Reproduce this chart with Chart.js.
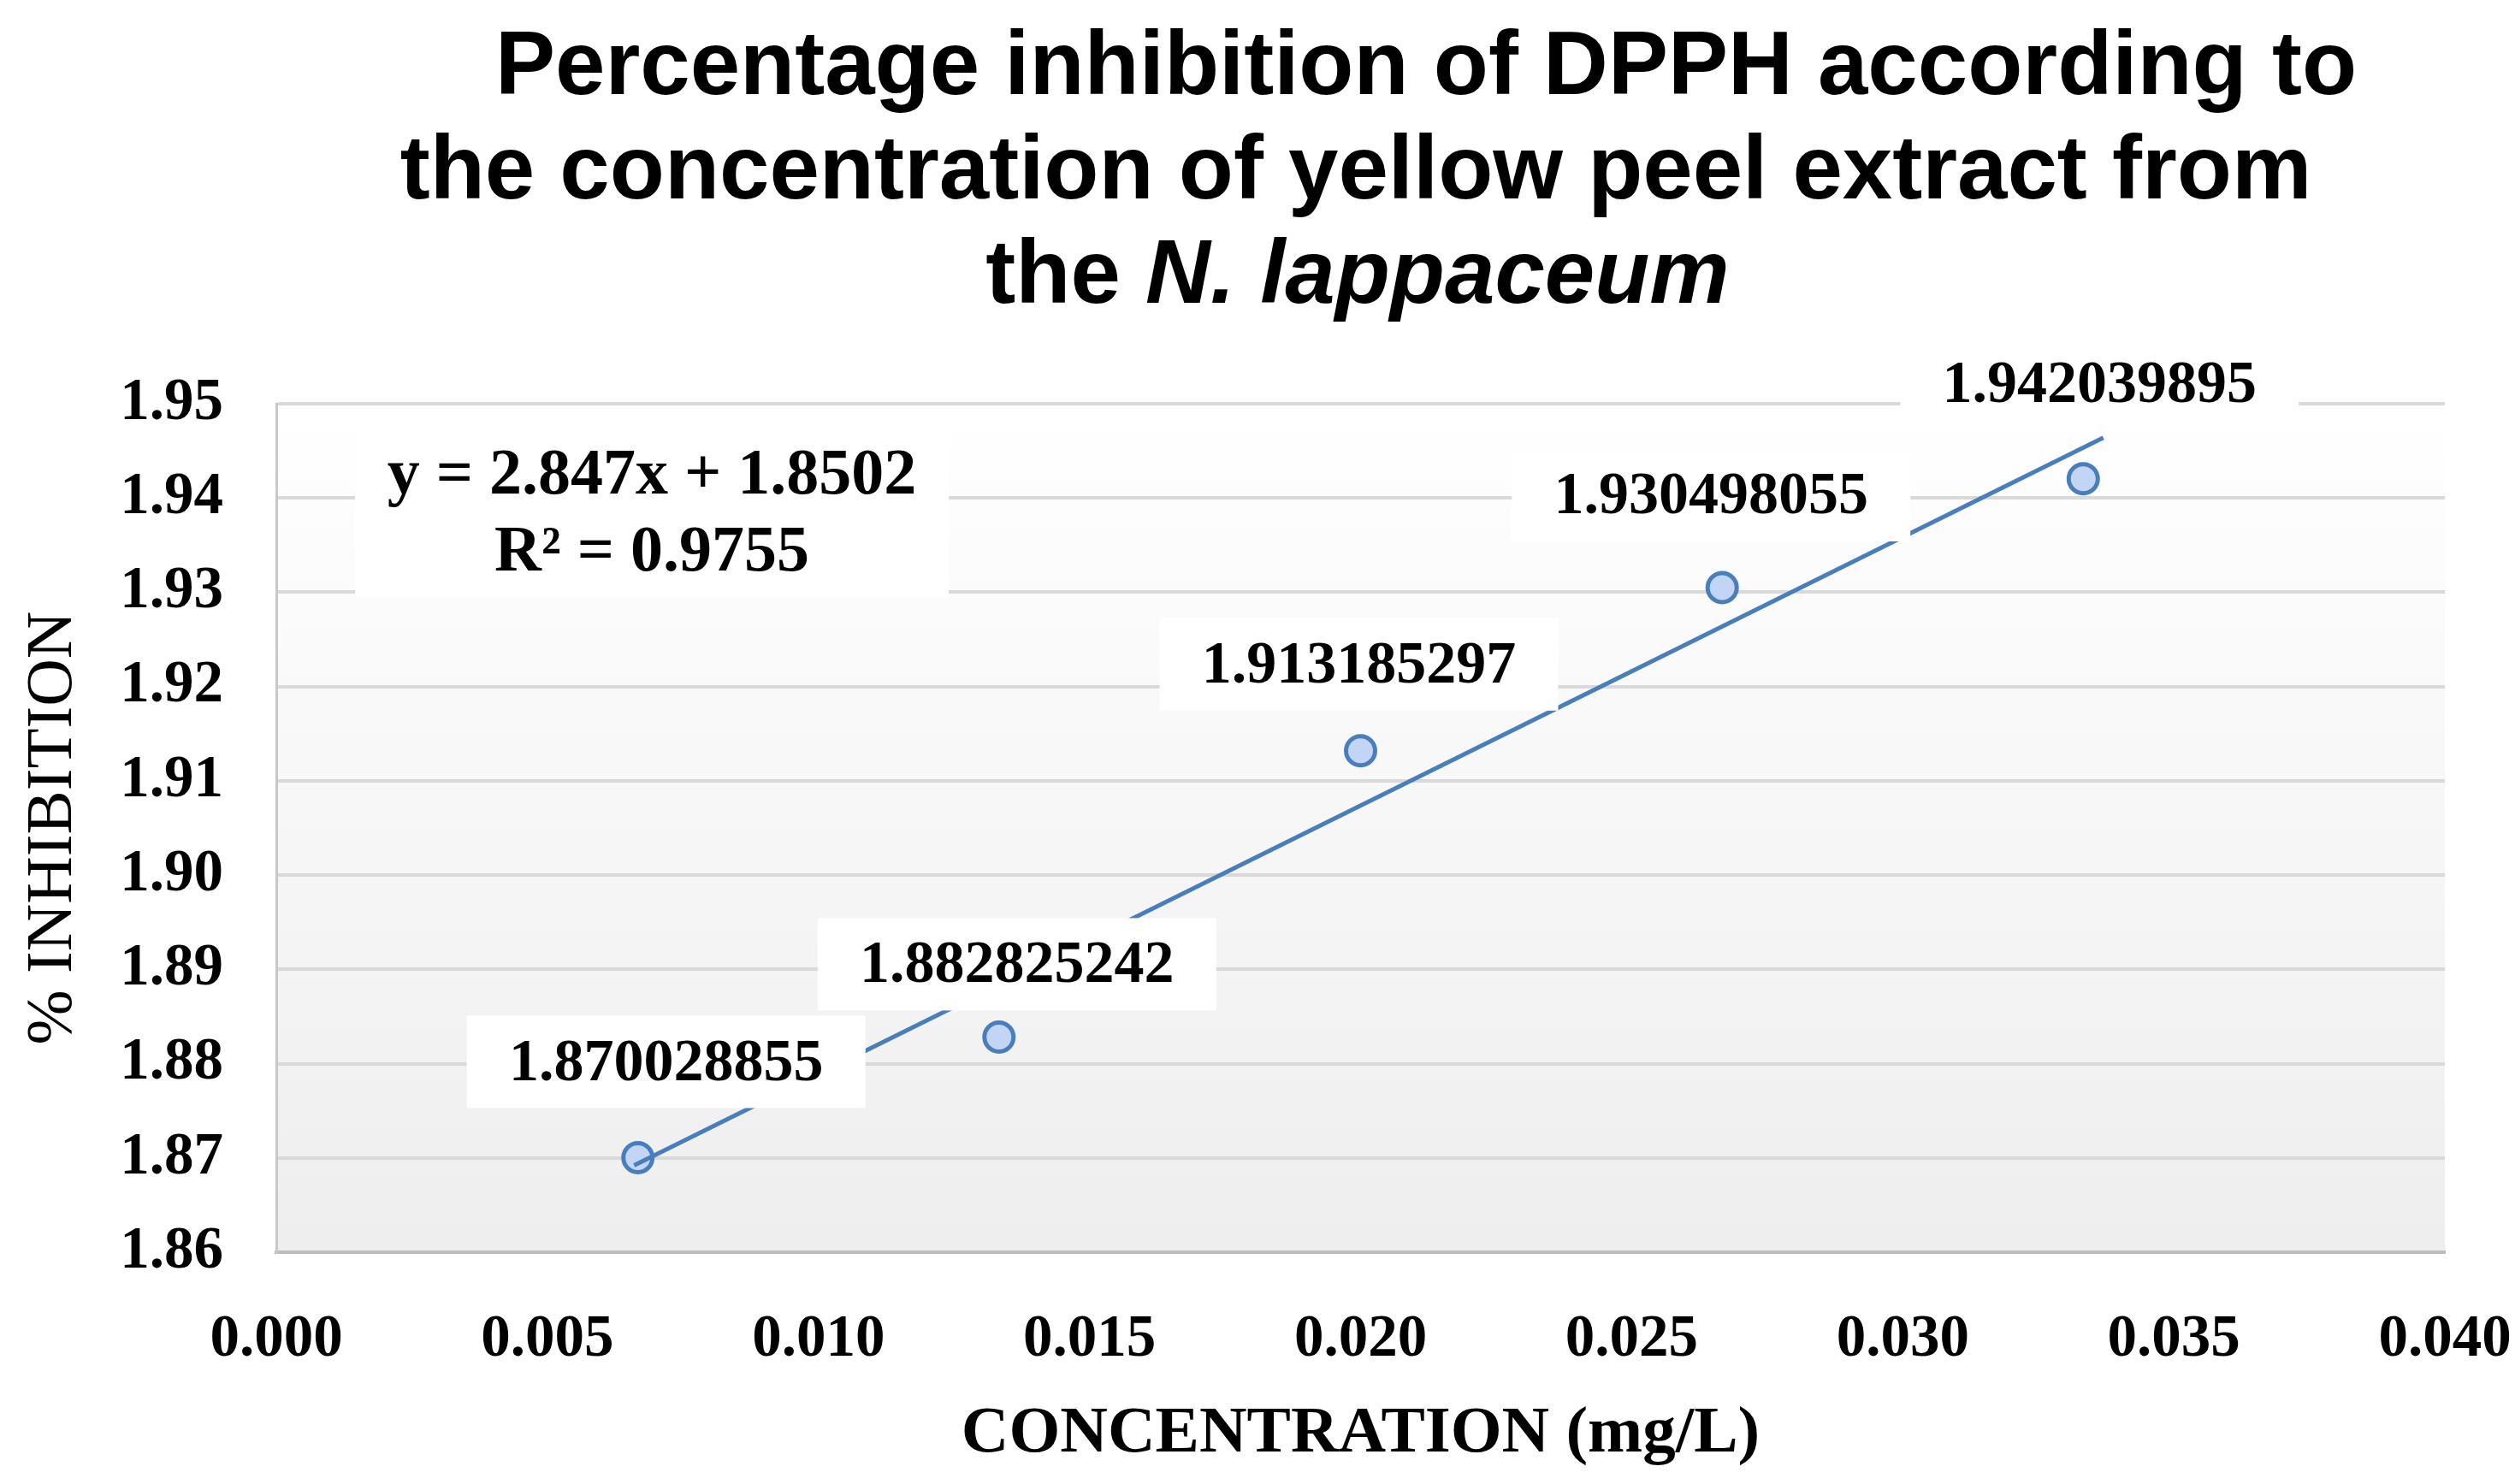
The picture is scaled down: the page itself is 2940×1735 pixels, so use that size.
<!DOCTYPE html>
<html><head><meta charset="utf-8">
<script src="https://cdn.jsdelivr.net/npm/chart.js@4/dist/chart.umd.min.js"></script>
<style>html,body{margin:0;padding:0;background:#fff;overflow:hidden}#wrap{width:2940px;height:1735px;position:relative}</style>
</head><body><div id="wrap"><canvas id="c" width="2940" height="1735"></canvas></div>
<script>
// ---- data ----
const concentrations = [0.00667, 0.01333, 0.02, 0.02667, 0.03333];
const inhibition = [1.870028855, 1.882825242, 1.913185297, 1.930498055, 1.942039895];
const pointLabels = ['1.870028855', '1.882825242', '1.913185297', '1.930498055', '1.942039895'];
const trendX = [0.0066, 0.0337];
const trendY = [1.8692, 1.9464];
const equationLines = ['y = 2.847x + 1.8502', 'R\u00B2 = 0.9755'];
const titleLine1 = 'Percentage inhibition of DPPH according to';
const titleLine2 = 'the concentration of yellow peel extract from';
const titleLine3a = 'the ';
const titleLine3b = 'N. lappaceum';
const xAxisTitle = 'CONCENTRATION (mg/L)';
const yAxisTitle = '% INHIBITION';

const SERIF = "'Liberation Serif','Times New Roman',serif";
const SANS = "'Liberation Sans',Arial,sans-serif";

// label box offsets (pixels relative to marker) - layout only
const labelOffsets = [[33,-112],[21,-85],[-2,-101],[-13,-108],[19,-111]];

const bgPlugin = {
  id: 'bg',
  beforeDraw(chart) {
    const {ctx, chartArea: a} = chart;
    ctx.save();
    ctx.fillStyle = '#ffffff';
    ctx.fillRect(0, 0, chart.width, chart.height);
    const g = ctx.createLinearGradient(0, a.top, 0, a.bottom);
    g.addColorStop(0, '#ffffff');
    g.addColorStop(1, '#eeeeee');
    ctx.fillStyle = g;
    ctx.fillRect(a.left, a.top, a.right - a.left, a.bottom - a.top);
    ctx.restore();
  }
};

const overlayPlugin = {
  id: 'overlay',
  afterDatasetsDraw(chart) {
    const {ctx, chartArea: a} = chart;
    const meta = chart.getDatasetMeta(1);
    ctx.save();
    // data labels
    ctx.font = 'bold 70px ' + SERIF;
    ctx.textAlign = 'center';
    ctx.textBaseline = 'middle';
    meta.data.forEach((pt, i) => {
      const cx = pt.x + labelOffsets[i][0];
      const cy = pt.y + labelOffsets[i][1];
      const w = 466, h = 108;
      ctx.fillStyle = '#ffffff';
      ctx.fillRect(cx - w / 2, cy - h / 2, w, h);
      ctx.fillStyle = '#000000';
      ctx.fillText(pointLabels[i], cx, cy + 3);
    });
    // equation box
    const bx = a.left + 92, by = a.top + 30, bw = 694, bh = 196;
    ctx.fillStyle = '#ffffff';
    ctx.fillRect(bx, by, bw, bh);
    ctx.fillStyle = '#000000';
    ctx.font = 'bold 76px ' + SERIF;
    ctx.fillText(equationLines[0], bx + bw / 2, by + 55);
    ctx.fillText(equationLines[1], bx + bw / 2, by + 145);
    ctx.restore();
  },
  afterDraw(chart) {
    const ctx = chart.ctx;
    ctx.save();
    ctx.fillStyle = '#000000';
    ctx.textBaseline = 'alphabetic';
    ctx.textAlign = 'center';
    ctx.font = 'bold 105px ' + SANS;
    ctx.fillText(titleLine1, 1667, 110);
    ctx.fillText(titleLine2, 1585, 232);
    ctx.textAlign = 'left';
    const f1 = 'bold 105px ' + SANS, f2 = 'italic bold 105px ' + SANS;
    ctx.font = f1; const w1 = ctx.measureText(titleLine3a).width;
    ctx.font = f2; const w2 = ctx.measureText(titleLine3b).width;
    const sx = 1587 - (w1 + w2) / 2;
    ctx.font = f1; ctx.fillText(titleLine3a, sx, 354);
    ctx.font = f2; ctx.fillText(titleLine3b, sx + w1, 354);
    ctx.restore();
  }
};

const points = concentrations.map((x, i) => ({x, y: inhibition[i]}));
const trend = trendX.map((x, i) => ({x, y: trendY[i]}));

new Chart(document.getElementById('c'), {
  type: 'scatter',
  data: {
    datasets: [
      {
        label: 'Linear trend',
        data: trend,
        showLine: true,
        borderColor: '#4a7ebb',
        borderWidth: 5,
        pointRadius: 0,
        fill: false
      },
      {
        label: '% inhibition',
        data: points,
        pointRadius: 17,
        pointBackgroundColor: '#c3d5f5',
        pointBorderColor: '#4a7ebb',
        pointBorderWidth: 5,
        showLine: false
      }
    ]
  },
  options: {
    responsive: false,
    devicePixelRatio: 1,
    animation: false,
    layout: {padding: {top: 472, left: 0, right: 82, bottom: 0}},
    plugins: {legend: {display: false}, tooltip: {enabled: false}, title: {display: false}},
    scales: {
      x: {
        type: 'linear',
        min: 0, max: 0.04,
        afterFit(s) { s.height = 271; s.paddingLeft = 0; s.paddingRight = 0; },
        ticks: {
          stepSize: 0.005,
          callback: v => v.toFixed(3),
          font: {family: SERIF, size: 69, weight: 'bold'},
          color: '#000000',
          padding: 62,
          maxRotation: 0
        },
        grid: {display: false, drawTicks: false},
        border: {display: true, color: '#bcbcbc', width: 4},
        title: {
          display: true,
          text: xAxisTitle,
          font: {family: SERIF, size: 77, weight: 'bold'},
          color: '#000000',
          padding: {top: 0, bottom: 12}
        }
      },
      y: {
        min: 1.86, max: 1.95,
        afterFit(s) { s.width = 323; s.paddingTop = 0; s.paddingBottom = 0; },
        ticks: {
          stepSize: 0.01,
          callback: v => v.toFixed(2),
          font: {family: SERIF, size: 69, weight: 'bold'},
          color: '#000000',
          padding: 62
        },
        grid: {color: '#d9d9d9', lineWidth: 4, drawTicks: false},
        border: {display: true, color: '#c8c8c8', width: 3},
        title: {
          display: true,
          text: yAxisTitle,
          font: {family: SERIF, size: 77, weight: 'normal'},
          color: '#000000',
          padding: {top: 17, bottom: 0}
        }
      }
    }
  },
  plugins: [bgPlugin, overlayPlugin]
});
</script>
</body></html>
